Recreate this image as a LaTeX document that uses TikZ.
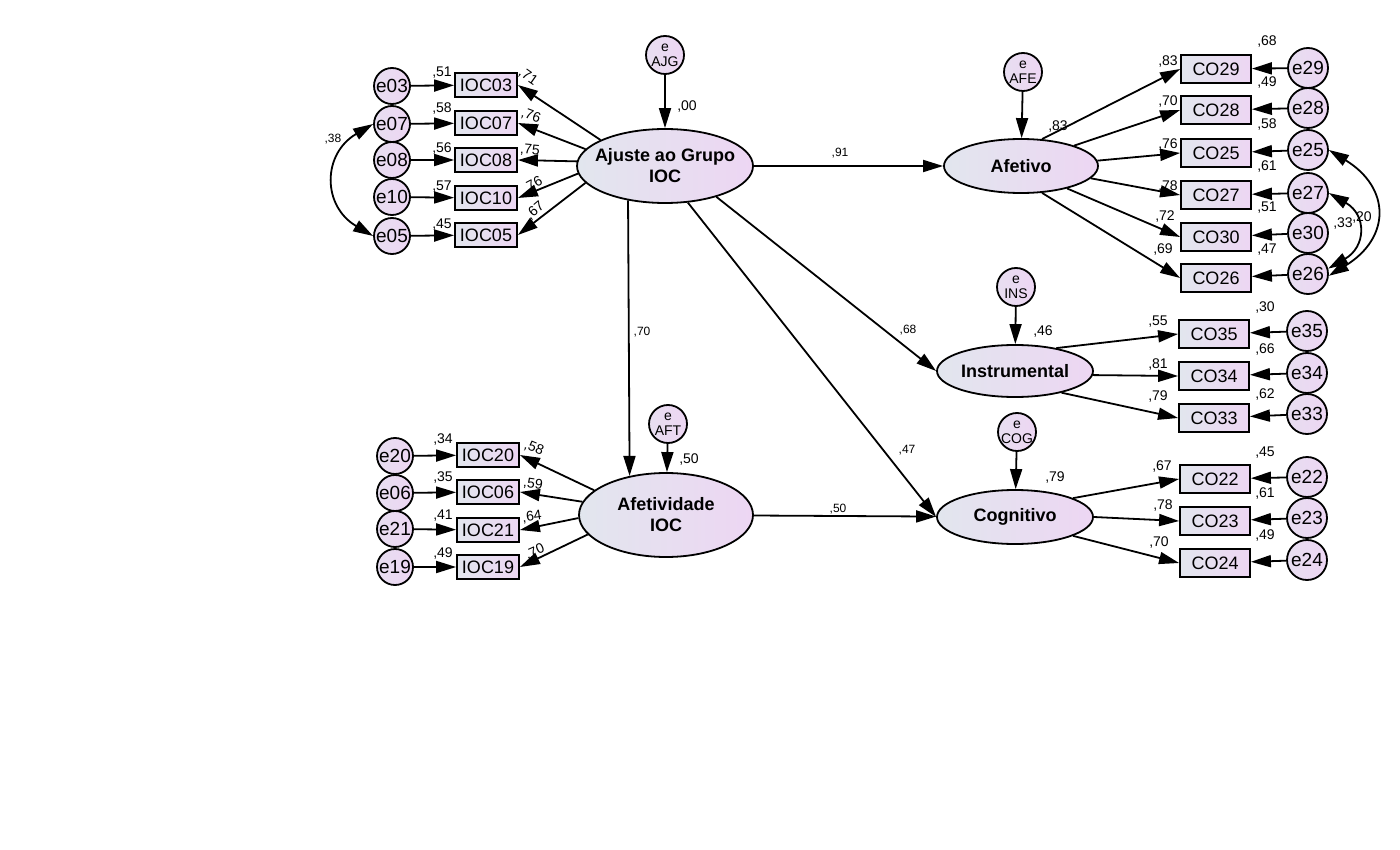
\documentclass[tikz,border=0pt]{standalone}
\usepackage{fontspec}
\setmainfont{Liberation Sans}
\usetikzlibrary{arrows.meta}
\usetikzlibrary{shapes.geometric}
\definecolor{amosl}{RGB}{226,230,238}
\definecolor{amosr}{RGB}{237,214,243}

\begin{document}
\begin{tikzpicture}[x=1pt,y=-1pt,
  obs/.style={draw,line width=1.8pt,left color=amosl,right color=amosr,minimum width=62pt,minimum height=24pt,inner sep=0pt,font=\fontsize{18}{18}\selectfont},
  obsr/.style={obs,minimum width=70pt,minimum height=28pt},
  err/.style={circle,draw,line width=1.8pt,left color=amosl!50!amosr,right color=amosr,minimum size=36pt,inner sep=0pt,font=\fontsize{19}{19}\selectfont},
  errr/.style={err,minimum size=40pt},
  res/.style={err,minimum size=38pt,inner sep=-2pt,align=center,font=\fontsize{14}{15}\selectfont},
  lat/.style={ellipse,draw,line width=1.8pt,left color=amosl,right color=amosr,inner xsep=-12pt,inner ysep=0pt,align=center,font=\fontsize{18}{21}\selectfont\bfseries},
  arr/.style={-{Triangle[length=20pt,width=12pt]},line width=1.8pt},
  cov/.style={{Triangle[length=20pt,width=12pt]}-{Triangle[length=20pt,width=12pt]},line width=1.8pt},
  num/.style={inner sep=0pt,font=\fontsize{14}{14}\selectfont},
  pnum/.style={inner sep=0pt,font=\fontsize{12}{12}\selectfont}]
\useasboundingbox (0,0) rectangle (1400,850);

\node[lat,minimum width=176pt,minimum height=74pt] (ajg) at (665,166) {Ajuste ao Grupo\\IOC};
\node[lat,minimum width=174pt,minimum height=84pt] (aft) at (666,515) {Afetividade\\IOC};
\node[lat,minimum width=154pt,minimum height=54pt] (afe) at (1021,166) {Afetivo};
\node[lat,minimum width=156pt,minimum height=52pt] (ins) at (1015,371) {Instrumental};
\node[lat,minimum width=156pt,minimum height=54pt] (cog) at (1015,517) {Cognitivo};

\node[res] (ejg) at (665,55) {e\\AJG};
\node[res] (eft) at (668,424) {e\\AFT};
\node[res] (efe) at (1023,72) {e\\AFE};
\node[res] (ein) at (1016,287) {e\\INS};
\node[res] (eco) at (1017,432) {e\\COG};

\node[obs] (ioc03) at (486,85) {IOC03};
\node[obs] (ioc07) at (486,123) {IOC07};
\node[obs] (ioc08) at (486,160) {IOC08};
\node[obs] (ioc10) at (486,198) {IOC10};
\node[obs] (ioc05) at (486,235) {IOC05};
\node[err] (e03) at (392,86) {e03};
\node[err] (e07) at (392,124) {e07};
\node[err] (e08) at (392,160) {e08};
\node[err] (e10) at (392,197) {e10};
\node[err] (e05) at (392,236) {e05};

\node[obs] (ioc20) at (488,455) {IOC20};
\node[obs] (ioc06) at (488,492) {IOC06};
\node[obs] (ioc21) at (488,530) {IOC21};
\node[obs] (ioc19) at (488,567) {IOC19};
\node[err] (e20) at (395,456) {e20};
\node[err] (e06) at (395,493) {e06};
\node[err] (e21) at (395,529) {e21};
\node[err] (e19) at (395,567) {e19};

\node[obsr] (co29) at (1216,69) {CO29};
\node[obsr] (co28) at (1216,110) {CO28};
\node[obsr] (co25) at (1216,153) {CO25};
\node[obsr] (co27) at (1216,195) {CO27};
\node[obsr] (co30) at (1216,237) {CO30};
\node[obsr] (co26) at (1216,278) {CO26};
\node[errr] (e29) at (1308,68) {e29};
\node[errr] (e28) at (1308,108) {e28};
\node[errr] (e25) at (1308,150) {e25};
\node[errr] (e27) at (1308,193) {e27};
\node[errr] (e30) at (1308,233) {e30};
\node[errr] (e26) at (1308,274) {e26};

\node[obsr] (co35) at (1214,334) {CO35};
\node[obsr] (co34) at (1214,376) {CO34};
\node[obsr] (co33) at (1214,418) {CO33};
\node[errr] (e35) at (1307,331) {e35};
\node[errr] (e34) at (1307,373) {e34};
\node[errr] (e33) at (1307,414) {e33};

\node[obsr] (co22) at (1215,479) {CO22};
\node[obsr] (co23) at (1215,521) {CO23};
\node[obsr] (co24) at (1215,563) {CO24};
\node[errr] (e22) at (1307,477) {e22};
\node[errr] (e23) at (1307,518) {e23};
\node[errr] (e24) at (1307,560) {e24};

\draw[arr] (ejg) -- (ajg);
\draw[arr] (eft) -- (aft);
\draw[arr] (efe) -- (afe);
\draw[arr] (ein) -- (ins);
\draw[arr] (eco) -- (cog);

\draw[arr] (ajg) -- (afe);
\draw[arr] (ajg.223) -- (aft.133);
\draw[arr] (ajg.-31) -- (ins.west);
\draw[arr] (ajg.-58) -- (cog.west);
\draw[arr] (aft) -- (cog);

\draw[arr] (ajg.158) -- (ioc03.east);
\draw[arr] (ajg.168) -- (ioc07.east);
\draw[arr] (ajg.177) -- (ioc08.east);
\draw[arr] (ajg.185) -- (ioc10.east);
\draw[arr] (ajg.192) -- (ioc05.east);
\draw[arr] (e03) -- (ioc03);
\draw[arr] (e07) -- (ioc07);
\draw[arr] (e08) -- (ioc08);
\draw[arr] (e10) -- (ioc10);
\draw[arr] (e05) -- (ioc05);
\draw[cov] (e07.west) .. controls +(-51,30) and +(-51,-30) .. (e05.west);

\draw[arr] (aft.161) -- (ioc20.east);
\draw[arr] (aft.171) -- (ioc06.east);
\draw[arr] (aft.182) -- (ioc21.east);
\draw[arr] (aft.194) -- (ioc19.east);
\draw[arr] (e20) -- (ioc20);
\draw[arr] (e06) -- (ioc06);
\draw[arr] (e21) -- (ioc21);
\draw[arr] (e19) -- (ioc19);

\draw[arr] (afe.52) -- (co29.west);
\draw[arr] (afe.21) -- (co28.west);
\draw[arr] (afe.4) -- (co25.west);
\draw[arr] (afe.-10) -- (co27.west);
\draw[arr] (afe.-26) -- (co30.west);
\draw[arr] (afe.-52) -- (co26.west);
\draw[arr] (e29) -- (co29);
\draw[arr] (e28) -- (co28);
\draw[arr] (e25) -- (co25);
\draw[arr] (e27) -- (co27);
\draw[arr] (e30) -- (co30);
\draw[arr] (e26) -- (co26);
\draw[cov] (e25.east) .. controls +(62,38) and +(62,-38) .. (e26.-5);
\draw[cov] (e27.east) .. controls +(38,22) and +(38,-22) .. (e26.15);

\draw[arr] (ins.29) -- (co35.west);
\draw[arr] (ins.-3) -- (co34.west);
\draw[arr] (ins.-25) -- (co33.west);
\draw[arr] (e35) -- (co35);
\draw[arr] (e34) -- (co34);
\draw[arr] (e33) -- (co33);

\draw[arr] (cog.18) -- (co22.west);
\draw[arr] (cog.0) -- (co23.west);
\draw[arr] (cog.-18) -- (co24.west);
\draw[arr] (e22) -- (co22);
\draw[arr] (e23) -- (co23);
\draw[arr] (e24) -- (co24);

\node[num] (r03) at (442,73) {,51};
\node[num] (r07) at (442,109) {,58};
\node[num] (r08) at (442,149) {,56};
\node[num] (r10) at (442,187) {,57};
\node[num] (r05) at (442,225) {,45};
\node[num,rotate=-35] (w03) at (528,77) {,71};
\node[num,rotate=-20] (w07) at (531,116) {,76};
\node[num,rotate=-5] (w08) at (530,150) {,75};
\node[num,rotate=28] (w10) at (533,185) {,76};
\node[num,rotate=40] (w05) at (535,211) {,67};
\node[pnum] (c0705) at (333,139) {,38};

\node[num] (r20) at (443,440) {,34};
\node[num] (r06) at (443,478) {,35};
\node[num] (r21) at (443,516) {,41};
\node[num] (r19) at (443,554) {,49};
\node[num,rotate=-22] (w20) at (534,448) {,58};
\node[num,rotate=-8] (w06) at (533,484) {,59};
\node[num,rotate=8] (w21) at (532,517) {,64};
\node[num,rotate=24] (w19) at (535,552) {,70};

\node[num] (rajg) at (687,107) {,00};
\node[num] (raft) at (689,460) {,50};
\node[num] (rafe) at (1058,127) {,83};
\node[num] (rins) at (1043,332) {,46};
\node[num] (rcog) at (1055,478) {,79};

\node[pnum] (bafe) at (840,153) {,91};
\node[pnum] (baft) at (642,332) {,70};
\node[pnum] (bins) at (908,330) {,68};
\node[pnum] (bcog) at (907,450) {,47};
\node[pnum] (bac) at (838,509) {,50};

\node[num] (r29) at (1267,42) {,68};
\node[num] (r28) at (1267,83) {,49};
\node[num] (r25) at (1267,125) {,58};
\node[num] (r27) at (1267,167) {,61};
\node[num] (r30) at (1267,208) {,51};
\node[num] (r26) at (1267,250) {,47};
\node[num] (w29) at (1168,62) {,83};
\node[num] (w28) at (1168,102) {,70};
\node[num] (w25) at (1168,145) {,76};
\node[num] (w27) at (1168,187) {,78};
\node[num] (w30) at (1165,217) {,72};
\node[num] (w26) at (1163,250) {,69};
\node[num] (c2526) at (1362,218) {,20};
\node[num] (c2726) at (1343,224) {,33};

\node[num] (r35) at (1265,308) {,30};
\node[num] (r34) at (1265,350) {,66};
\node[num] (r33) at (1265,395) {,62};
\node[num] (w35) at (1158,322) {,55};
\node[num] (w34) at (1158,365) {,81};
\node[num] (w33) at (1158,397) {,79};

\node[num] (r22) at (1265,453) {,45};
\node[num] (r23) at (1265,494) {,61};
\node[num] (r24) at (1265,536) {,49};
\node[num] (w22) at (1162,467) {,67};
\node[num] (w23) at (1163,506) {,78};
\node[num] (w24) at (1159,543) {,70};
\end{tikzpicture}
\end{document}
